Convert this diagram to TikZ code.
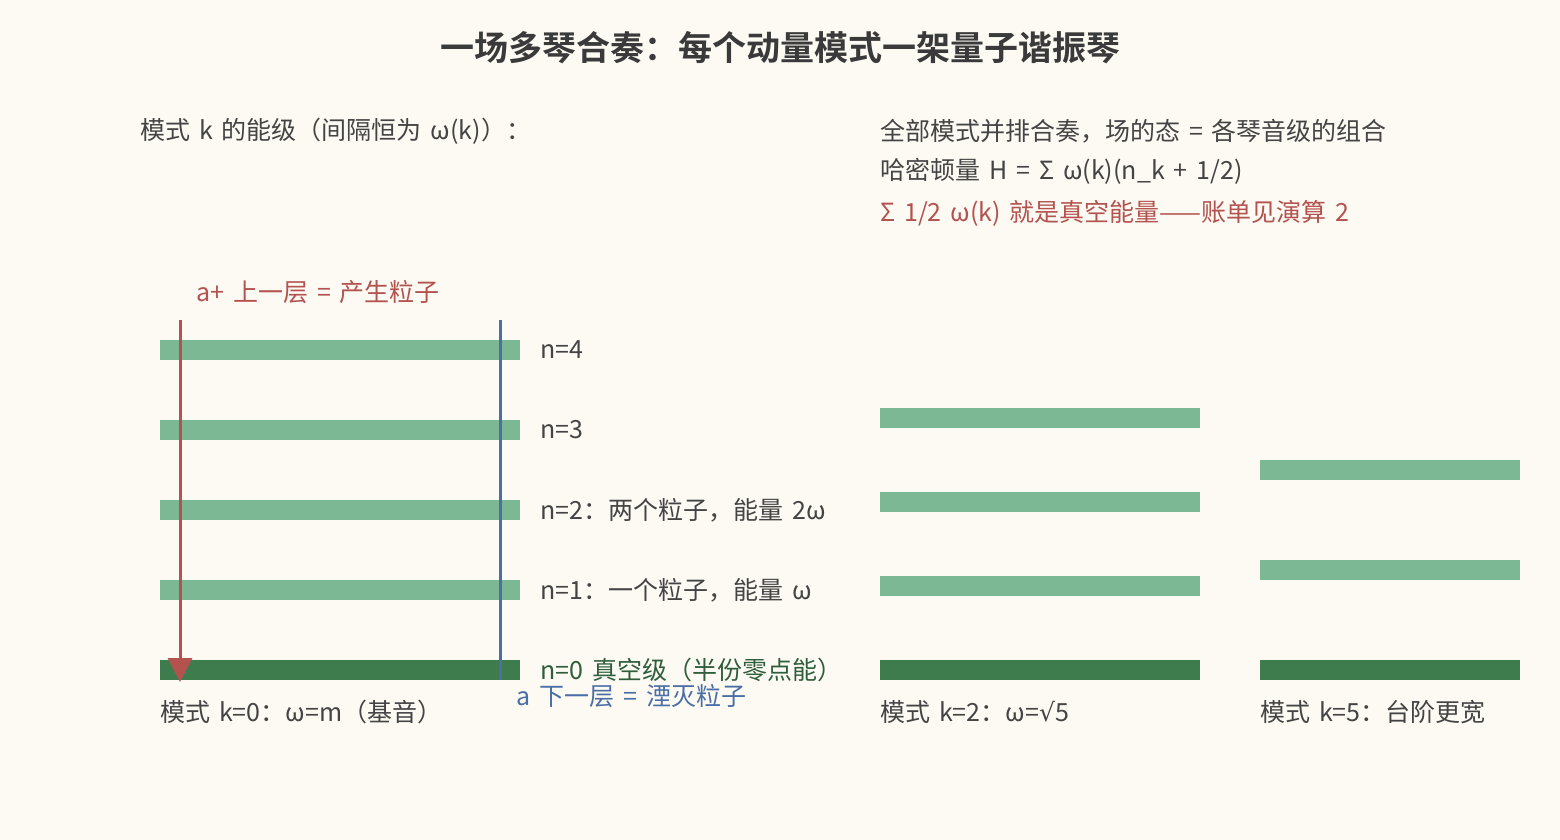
\documentclass[tikz,border=0pt]{standalone}
\usepackage{fontspec}
\setmainfont{Noto Sans CJK SC}[BoldFont={Noto Sans CJK SC Bold}, WordSpace=1.6]
\newfontfamily\mathsym{DejaVu Sans}
\usetikzlibrary{positioning,arrows.meta}

\definecolor{paper}{HTML}{FDFAF3}
\definecolor{ink}{HTML}{444444}
\definecolor{level}{HTML}{7BB893}
\definecolor{ground}{HTML}{3E7C4E}
\definecolor{groundtxt}{HTML}{2F5E3C}
\definecolor{raise}{HTML}{B3524F}
\definecolor{lower}{HTML}{4A6FA6}

\tikzset{
  txt/.style={inner sep=0pt, anchor=west, text=ink, font=\fontsize{25}{29}\selectfont},
  rung/.style={fill=level, inner sep=0pt, minimum height=20pt},
  vac/.style={fill=ground, inner sep=0pt, minimum height=20pt},
}

\begin{document}
\begin{tikzpicture}[x=1pt, y=-1pt]

    % Canvas
    \fill[paper] (0,0) rectangle (1560,840);
    \useasboundingbox (0,0) rectangle (1560,840);

    % Title and notes
    \node[font=\fontsize{34}{38}\selectfont\bfseries, text=ink!85!black] (title) at (780,48) {一场多琴合奏：每个动量模式一架量子谐振琴};
    \node[txt] (head) at (140,131) {模式 k 的能级（间隔恒为 ω(k)）：};
    \node[txt] (all)  at (880,131) {全部模式并排合奏，场的态 = 各琴音级的组合};
    \node[txt, below=15pt of all.south west, anchor=north west] (ham) {哈密顿量 H = Σ ω(k)(n\_k + 1/2)};
    \node[txt, text=raise, below=15pt of ham.south west, anchor=north west] (zpe) {Σ 1/2 ω(k) 就是真空能量——账单见演算 2};

    % Mode k=0
    \node[vac,  minimum width=360pt] (n0) at (340,670) {};
    \node[rung, minimum width=360pt] (n1) at (340,590) {};
    \node[rung, minimum width=360pt] (n2) at (340,510) {};
    \node[rung, minimum width=360pt] (n3) at (340,430) {};
    \node[rung, minimum width=360pt] (n4) at (340,350) {};

    \node[txt, right=20pt of n4] (l4) {n=4};
    \node[txt, right=20pt of n3] (l3) {n=3};
    \node[txt, right=20pt of n2] (l2) {n=2：两个粒子，能量 2ω};
    \node[txt, right=20pt of n1] (l1) {n=1：一个粒子，能量 ω};
    \node[txt, text=groundtxt, right=20pt of n0] (l0) {n=0 真空级（半份零点能）};
    \node[txt] (m0) at (160,712) {模式 k=0：ω=m（基音）};

    % Ladder operators
    \coordinate (uptop) at (180,320);
    \coordinate (upbot) at (180,682);
    \coordinate (dntop) at (500,320);
    \coordinate (dnbot) at (500,680);
    \draw[raise, line width=3pt, -{Triangle[width=24pt,length=24pt]}] (uptop) -- (upbot);
    \draw[lower, line width=3pt] (dntop) -- (dnbot);
    \node[txt, text=raise] (adag) at (196,292) {a+ 上一层 = 产生粒子};
    \node[txt, text=lower] (a) at (516,696) {a 下一层 = 湮灭粒子};

    % Mode k=2
    \node[vac,  minimum width=320pt] (p0) at (1040,670) {};
    \node[rung, minimum width=320pt] (p1) at (1040,586) {};
    \node[rung, minimum width=320pt] (p2) at (1040,502) {};
    \node[rung, minimum width=320pt] (p3) at (1040,418) {};
    \node[txt] (m2) at (880,712) {模式 k=2：ω={\mathsym √}5};

    % Mode k=5
    \node[vac,  minimum width=260pt] (q0) at (1390,670) {};
    \node[rung, minimum width=260pt] (q1) at (1390,570) {};
    \node[rung, minimum width=260pt] (q2) at (1390,470) {};
    \node[txt] (m5) at (1260,712) {模式 k=5：台阶更宽};

\end{tikzpicture}
\end{document}
